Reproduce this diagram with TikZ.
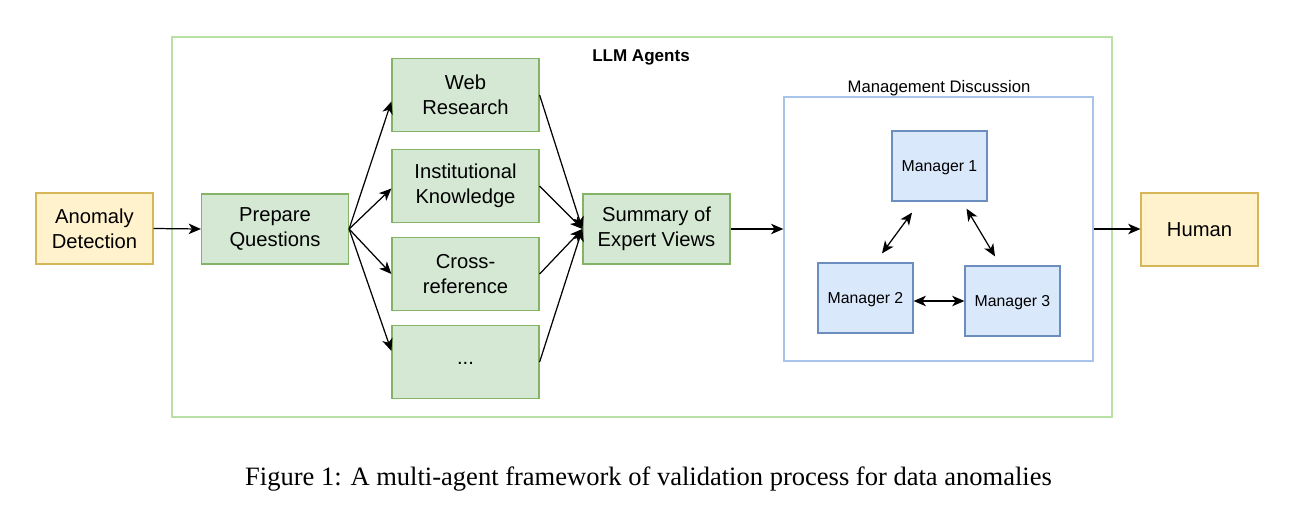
\documentclass[tikz,border=0pt]{standalone}
\usepackage{fontspec}
\setmainfont{Liberation Sans}
\newfontfamily\capfont{Liberation Serif}
\usepackage{xcolor}
\usetikzlibrary{arrows.meta,calc}
\definecolor{greenfill}{HTML}{D5E8D4}
\definecolor{greenline}{HTML}{82B366}
\definecolor{framegreen}{HTML}{B9E0A5}
\definecolor{yellowfill}{HTML}{FFF2CC}
\definecolor{yellowline}{HTML}{D6B656}
\definecolor{bluefill}{HTML}{DAE8FC}
\definecolor{blueline}{HTML}{6C8EBF}
\definecolor{frameblue}{HTML}{A9C4EB}
\tikzset{>={Stealth[length=7pt,width=6pt,inset=2pt]}}
\tikzset{
  agentbox/.style={draw=greenline, fill=greenfill, line width=0.7pt, align=center, inner sep=0pt,
    minimum width=2.94cm, minimum height=1.46cm, font=\fontsize{11.5}{14.2}\selectfont},
  endbox/.style={draw=yellowline, fill=yellowfill, line width=0.7pt, align=center, inner sep=0pt,
    minimum width=2.34cm, font=\fontsize{11.5}{14.2}\selectfont},
  managerbox/.style={draw=blueline, fill=bluefill, line width=0.7pt, inner sep=0pt,
    minimum width=1.9cm, minimum height=1.4cm, text depth=0pt, font=\fontsize{9}{11}\selectfont},
  flow/.style={->, line width=0.7pt, black}
}

\begin{document}
\begin{tikzpicture}[x=0.02cm, y=-0.02cm]
\useasboundingbox (0,0) rectangle (1294,517);

% Frames
\node[draw=framegreen, line width=0.8pt, minimum width=18.8cm, minimum height=7.6cm, inner sep=0pt] (llm) at (642,227) {};
\node[font=\fontsize{9.7}{11}\selectfont\bfseries] (llmlabel) at (641,57) {LLM Agents};
\node[draw=frameblue, line width=0.8pt, minimum width=6.18cm, minimum height=5.28cm, inner sep=0pt] (mgmt) at (938.5,229) {};
\node[font=\fontsize{9.5}{11}\selectfont] (mgmtlabel) at (939,88) {Management Discussion};

% Boxes
\node[endbox, minimum height=1.42cm] (anomaly) at (94.5,228.5) {Anomaly\\Detection};
\node[agentbox, minimum height=1.4cm] (prepare) at (275,229) {Prepare\\Questions};
\node[agentbox] (web) at (465.5,95) {Web\\Research};
\node[agentbox] (inst) at (465.5,186) {Institutional\\Knowledge};
\node[agentbox] (cross) at (465.5,274) {Cross-\\reference};
\node[agentbox, text height=0.5ex, text depth=0pt] (dots) at (465.5,362) {...};
\node[agentbox, minimum height=1.4cm] (summary) at (656.5,229) {Summary of\\Expert Views};
\node[endbox, minimum height=1.46cm] (human) at (1199.5,229.5) {Human};

\node[managerbox] (m1) at (939.5,166) {Manager 1};
\node[managerbox] (m2) at (865.5,298) {Manager 2};
\node[managerbox] (m3) at (1012.5,301) {Manager 3};

% Arrows
\draw[flow] (anomaly.east) -- (prepare.west);
\draw[flow] (prepare.east) -- ([yshift=-0.13cm]web.west);
\draw[flow] (prepare.east) -- ([yshift=-0.05cm]inst.west);
\draw[flow] (prepare.east) -- (cross.west);
\draw[flow] (prepare.east) -- ([yshift=0.22cm]dots.west);
\draw[flow] (web.east) -- (summary.west);
\draw[flow] (inst.east) -- (summary.west);
\draw[flow] (cross.east) -- (summary.west);
\draw[flow] (dots.east) -- (summary.west);
\draw[flow] (summary.east) -- (summary.east -| mgmt.west);
\draw[flow] (mgmt.east) -- (mgmt.east -| human.west);

% Discussion
\draw[<->, line width=0.7pt] ([xshift=-0.55cm, yshift=-0.22cm]m1.south) -- ([xshift=0.33cm, yshift=0.18cm]m2.north);
\draw[<->, line width=0.7pt] ([xshift=0.54cm, yshift=-0.14cm]m1.south) -- ([xshift=-0.35cm, yshift=0.18cm]m3.north);
\draw[<->, line width=0.7pt] (m3.west -| m2.east) -- (m3.west);

% Caption
\node[font=\capfont\fontsize{15.1}{18}\selectfont] (caption) at (648.5,479) {Figure 1: A multi-agent framework of validation process for data anomalies};

\end{tikzpicture}
\end{document}
